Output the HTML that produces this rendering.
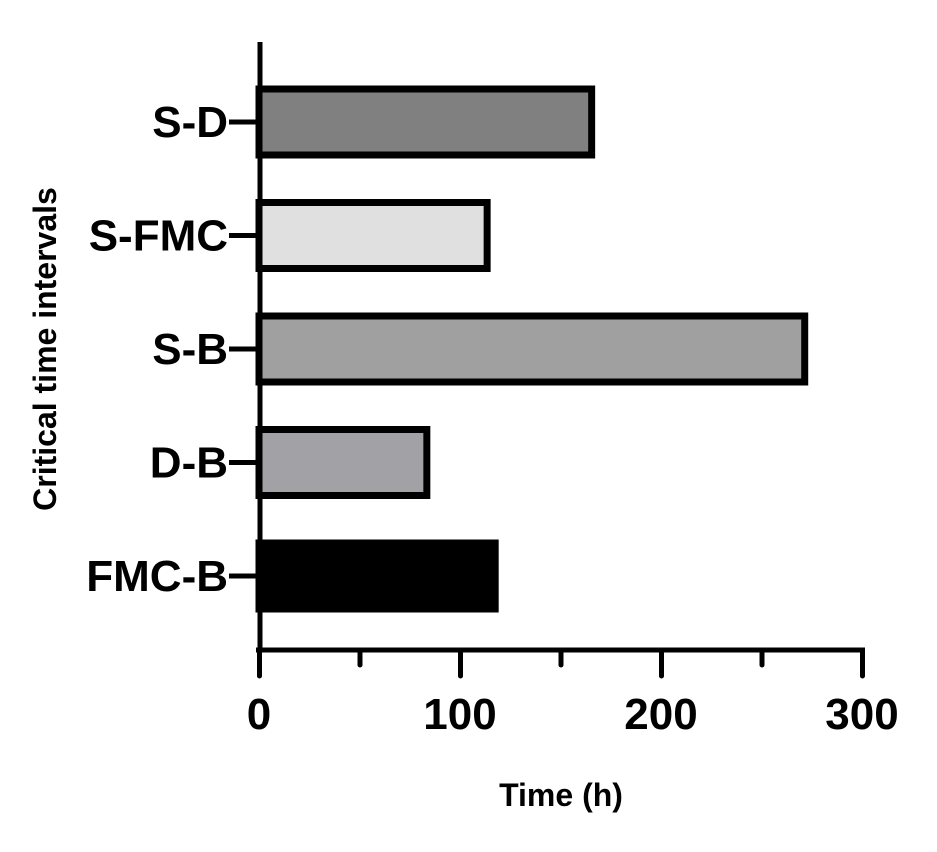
<!DOCTYPE html>
<html><head><meta charset="utf-8"><style>
body{margin:0;background:#fff;}
svg{display:block;font-family:"Liberation Sans",Arial,sans-serif;font-weight:bold;}
</style></head><body>
<svg width="937" height="852" id="c">
<text x="561" y="806" font-size="32" text-anchor="middle">Time (h)</text>
<text transform="translate(56,349) rotate(-90)" font-size="32" text-anchor="middle">Critical time intervals</text>
</svg>
<script>
const categories=["S-D","S-FMC","S-B","D-B","FMC-B"];
const values=[166,114,272,84,118];
const colors=["#808080","#e0e0e0","#a0a0a0","#a2a2a6","#000000"];
const xTicks=[0,100,200,300];
const minorTicks=[50,150,250];
const svg=document.getElementById('c');
const NS="http://www.w3.org/2000/svg";
const x0=259,pxPer=2.01;
const X=v=>x0+v*pxPer;
const Y=i=>122+i*113.5;
function mk(t,a){const e=document.createElementNS(NS,t);for(const k in a)e.setAttribute(k,a[k]);svg.appendChild(e);return e;}
categories.forEach((c,i)=>{
 const r=mk('rect',{x:X(0),y:Y(i)-33,width:X(values[i])-X(0)-1,height:66,fill:colors[i],stroke:'#000','stroke-width':7});
 
 
 const tk=mk('line',{x1:229,x2:X(0),y1:Y(i),y2:Y(i),stroke:'#000','stroke-width':5});
 
 
 const t=mk('text',{x:228,y:Y(i)+15,'font-size':44,'text-anchor':'end'});
 t.textContent=c;
 
 
});
const ya=mk('line',{x1:260,x2:260,y1:42,y2:652,stroke:'#000','stroke-width':5});


const xa=mk('line',{x1:256,x2:865,y1:650,y2:650,stroke:'#000','stroke-width':5});


xTicks.forEach(v=>{
 const l=mk('line',{x1:X(v)+0.5,x2:X(v)+0.5,y1:650,y2:676,stroke:'#000','stroke-width':5,'stroke-linecap':'round'});
 
 
 const t=mk('text',{x:X(v),y:729,'font-size':44,'text-anchor':'middle'});
 t.textContent=v;
 
 
});
minorTicks.forEach(v=>{
 const l=mk('line',{x1:X(v)+0.5,x2:X(v)+0.5,y1:650,y2:665,stroke:'#000','stroke-width':5,'stroke-linecap':'round'});
 
 
});
</script>
</body></html>
